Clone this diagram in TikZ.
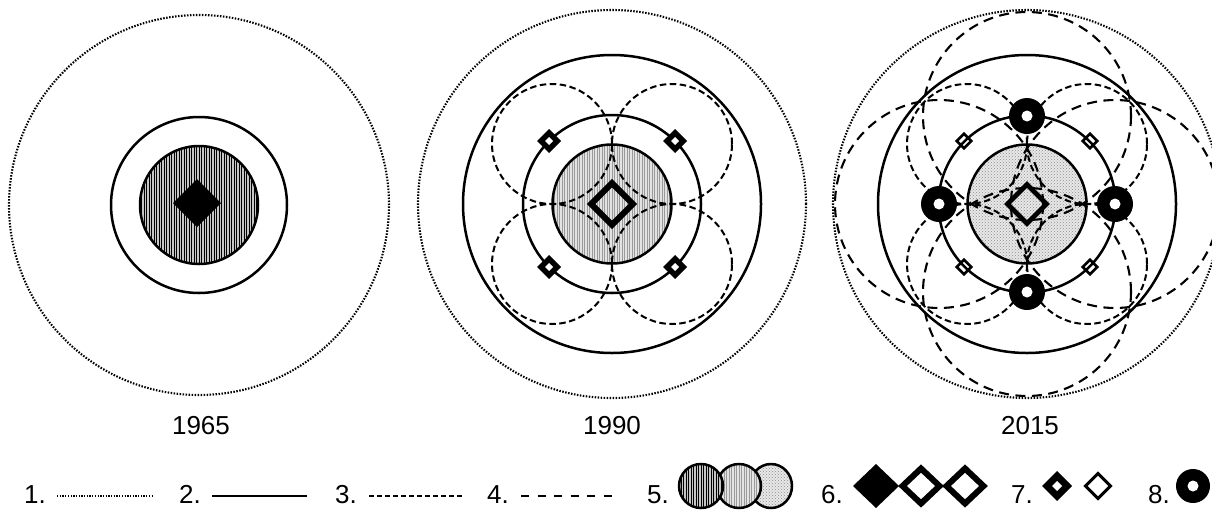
\documentclass[tikz,border=0pt]{standalone}
\usepackage{fontspec}
\setmainfont{Liberation Sans}
\usetikzlibrary{patterns}
\tikzset{
  dotc/.style={line width=2.1pt, dash pattern=on 1.5pt off 1.5pt},
  solc/.style={line width=2.5pt},
  dshA/.style={line width=2pt, dash pattern=on 6.5pt off 3.5pt},
  dshB/.style={line width=2.1pt, dash pattern=on 10pt off 6.5pt},
  lbl/.style={font=\fontsize{26}{30}\selectfont, inner sep=0pt},
  dark hatch/.style={line width=1pt, black},
  light hatch/.style={line width=0.75pt, gray!80},
}
% hatched ellipse: x, y, rx, ry, fill colour, hatch style
\newcommand{\hatchdisk}[6]{%
  \begin{scope}
    \clip (#1,#2) ellipse[x radius=#3pt, y radius=#4pt];
    \fill[#5] (#1,#2) ellipse[x radius=#3pt, y radius=#4pt];
    \foreach \k in {-25,...,25}{
      \draw[#6] ({#1+2.5*\k},{#2-#4}) -- ({#1+2.5*\k},{#2+#4});}
  \end{scope}
  \draw[solc] (#1,#2) ellipse[x radius=#3pt, y radius=#4pt];}
% dotted ellipse
\newcommand{\dotdisk}[4]{%
  \fill[gray!18] (#1,#2) ellipse[x radius=#3pt, y radius=#4pt];
  \fill[pattern=crosshatch dots, pattern color=gray!90] (#1,#2) ellipse[x radius=#3pt, y radius=#4pt];
  \draw[solc] (#1,#2) ellipse[x radius=#3pt, y radius=#4pt];}
% filled diamond: x, y, half width, half height
\newcommand{\fulldia}[4]{%
  \fill ({#1},{#2-#4}) -- ({#1+#3},{#2}) -- ({#1},{#2+#4}) -- ({#1-#3},{#2}) -- cycle;}
% outline diamond: x, y, half width (path), half height (path), line width
\newcommand{\opendia}[5]{%
  \draw[line width=#5pt, miter limit=4] ({#1},{#2-#4}) -- ({#1+#3},{#2}) -- ({#1},{#2+#4}) -- ({#1-#3},{#2}) -- cycle;}
% ring
\newcommand{\ringmark}[4]{%
  \fill ({#1},{#2}) circle[radius=#3pt];
  \fill[white] ({#1},{#2}) circle[radius=#4pt];}
\begin{document}
\begin{tikzpicture}[x=1pt,y=-1pt]
\useasboundingbox (0,0) rectangle (1212,509);
\clip (0,0) rectangle (1212,509);

% ---------- 1965 ----------
\begin{scope}[shift={(199,205)}]
  \draw[dotc] (0,0) circle[radius=190pt];
  \draw[solc] (0,0) circle[radius=88pt];
  \hatchdisk{0}{0}{59}{59}{gray!45}{dark hatch}
  \fulldia{-2}{-2}{24}{24}
\end{scope}

% ---------- 1990 ----------
\begin{scope}[shift={(612,204)}]
  \draw[dotc] (0,0) circle[radius=194pt];
  \draw[solc] (0,0) circle[radius=149pt];
  \draw[solc] (0,0) circle[radius=89pt];
  \hatchdisk{0}{0}{59.5}{59.5}{gray!22}{light hatch}
  \foreach \sx/\sy in {1/1,1/-1,-1/1,-1/-1}{
    \draw[dshA] ({60*\sx},{60*\sy}) circle[radius=60pt];}
  \foreach \sx/\sy in {1/1,1/-1,-1/1,-1/-1}{
    \fulldia{63*\sx}{63*\sy}{12}{12}
    \fill[white] ({63*\sx},{63*\sy-4}) -- ({63*\sx+4},{63*\sy}) -- ({63*\sx},{63*\sy+4}) -- ({63*\sx-4},{63*\sy}) -- cycle;}
  \opendia{0}{0}{20.8}{20.8}{6}
\end{scope}

% ---------- 2015 ----------
\begin{scope}[shift={(1027,204)}]
  \draw[dotc] (0,0) circle[radius=194pt];
  \draw[solc] (0,0) circle[radius=149pt];
  \draw[solc] (0,0) circle[radius=88.5pt];
  \dotdisk{0}{0}{59.5}{59.5}
  \foreach \sx/\sy in {1/1,1/-1,-1/1,-1/-1}{
    \draw[dshA] ({60*\sx},{60*\sy}) circle[radius=60pt];}
  \foreach \px/\py in {0/88,0/-88,88/0,-88/0}{
    \draw[dshB] (\px,\py) circle[radius=104pt];}
  \foreach \sx/\sy in {1/1,1/-1,-1/1,-1/-1}{
    \opendia{63*\sx}{63*\sy}{7.2}{7.2}{2.6}}
  \foreach \px/\py in {0/88,0/-88,88/0,-88/0}{
    \ringmark{\px}{\py}{18}{5.5}}
  \opendia{0}{0}{19.5}{19.5}{4.8}
\end{scope}

% ---------- year labels ----------
\node[lbl, anchor=base] (y1965) at (201,434) {1965};
\node[lbl, anchor=base] (y1990) at (612,434) {1990};
\node[lbl, anchor=base] (y2015) at (1030,434) {2015};

% ---------- legend ----------
\node[lbl, anchor=base west] (l1) at (24,503) {1.};
\coordinate (l1a) at (57,496); \coordinate (l1b) at (152,496);
\draw[line width=1.6pt, dash pattern=on 1.3pt off 1.4pt] (l1a) -- (l1b);

\node[lbl, anchor=base west] (l2) at (179,503) {2.};
\coordinate (l2a) at (212,496); \coordinate (l2b) at (307,496);
\draw[solc] (l2a) -- (l2b);

\node[lbl, anchor=base west] (l3) at (335,503) {3.};
\coordinate (l3a) at (369,496); \coordinate (l3b) at (462,496);
\draw[line width=2pt, dash pattern=on 5pt off 3pt] (l3a) -- (l3b);

\node[lbl, anchor=base west] (l4) at (487,503) {4.};
\coordinate (l4a) at (521,496); \coordinate (l4b) at (618,496);
\draw[line width=2pt, dash pattern=on 8pt off 8.5pt] (l4a) -- (l4b);

\node[lbl, anchor=base west] (l5) at (647,503) {5.};
\dotdisk{771}{486}{21}{22}
\hatchdisk{739}{486}{22}{22}{gray!22}{light hatch}
\hatchdisk{701}{486}{22}{22}{gray!45}{dark hatch}

\node[lbl, anchor=base west] (l6) at (821,503) {6.};
\fulldia{876}{486}{23}{22}
\opendia{921}{486}{18.5}{17.5}{6}
\opendia{965}{486}{18.5}{17.5}{6}

\node[lbl, anchor=base west] (l7) at (1011,503) {7.};
\fulldia{1057}{486}{15}{15}
\fill[white] (1057,481) -- (1062,486) -- (1057,491) -- (1052,486) -- cycle;
\opendia{1098}{486}{12.5}{12.5}{3}

\node[lbl, anchor=base west] (l8) at (1148,503) {8.};
\ringmark{1193}{486}{17}{5.5}
\end{tikzpicture}
\end{document}
